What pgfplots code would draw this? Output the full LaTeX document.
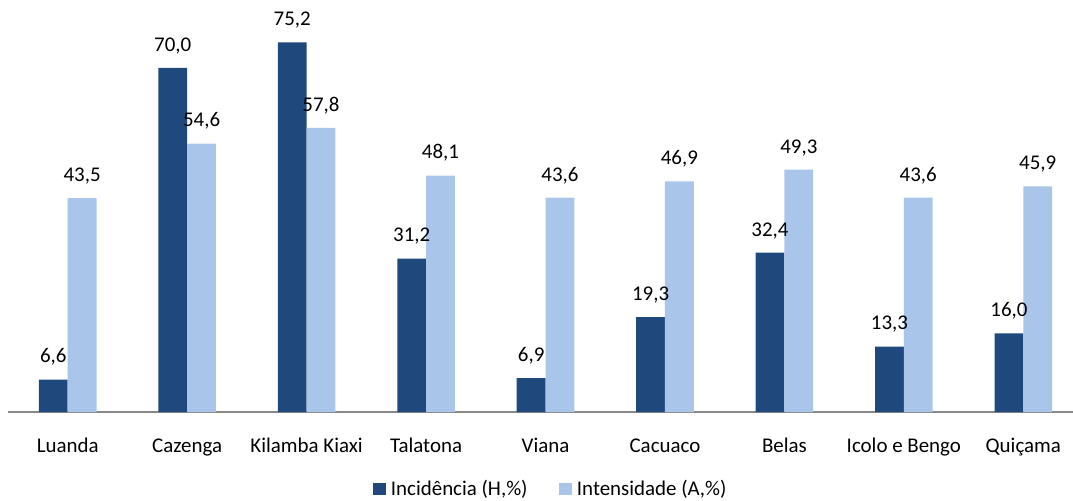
\documentclass[border=0pt]{standalone}
\usepackage{fontspec}
\setmainfont{Carlito}
\usepackage{pgfplots}
\pgfplotsset{compat=1.18}
\definecolor{incid}{HTML}{1F497D}
\definecolor{inten}{HTML}{A9C6EA}
\definecolor{axisgray}{HTML}{888888}

\begin{document}
\fontsize{15.7pt}{18pt}\selectfont
\begin{tikzpicture}
\path[use as bounding box] (-6pt,-66pt) rectangle (798.75pt,309pt);
\begin{axis}[
  at={(0pt,0pt)}, anchor=south west,
  scale only axis, width=798.75pt, height=309pt,
  ybar=0pt, bar width=21.6pt,
  xmin=-0.5, xmax=8.416, ymin=0, ymax=83.82,
  axis x line*=bottom, axis y line=none,
  x axis line style={draw=axisgray, line width=1.1pt},
  xtick=data,
  xticklabels={Luanda, Cazenga, Kilamba Kiaxi, Talatona, Viana, Cacuaco, Belas, Icolo e Bengo, Quiçama},
  xtick style={draw=none},
  xticklabel style={anchor=base, yshift=-26.25pt, inner sep=0pt},
  ytick=\empty,
  clip=false,
  /pgf/number format/assume math mode=true,
  nodes near coords={\pgfmathprintnumber[fixed, fixed zerofill, precision=1, use comma]{\pgfplotspointmeta}},
  every node near coord/.append style={anchor=base, yshift=12.5pt, inner sep=0pt, text=black},
  legend columns=2,
  legend style={at={(0.5096,-0.189)}, anchor=center, draw=none, fill=none,
    /tikz/every even column/.append style={column sep=22pt},
    nodes={inner sep=1.5pt}},
  legend image code/.code={\fill[#1] (0pt,-4pt) rectangle (9.75pt,5pt); \path (12pt,0pt);},
]
\addplot[draw=none, fill=incid] coordinates {(0,6.6) (1,70.0) (2,75.2) (3,31.2) (4,6.9) (5,19.3) (6,32.4) (7,13.3) (8,16.0)};
\addplot[draw=none, fill=inten] coordinates {(0,43.5) (1,54.6) (2,57.8) (3,48.1) (4,43.6) (5,46.9) (6,49.3) (7,43.6) (8,45.9)};
\legend{{Incidência (H,\%)}, {Intensidade (A,\%)}}
\end{axis}
\end{tikzpicture}
\end{document}
